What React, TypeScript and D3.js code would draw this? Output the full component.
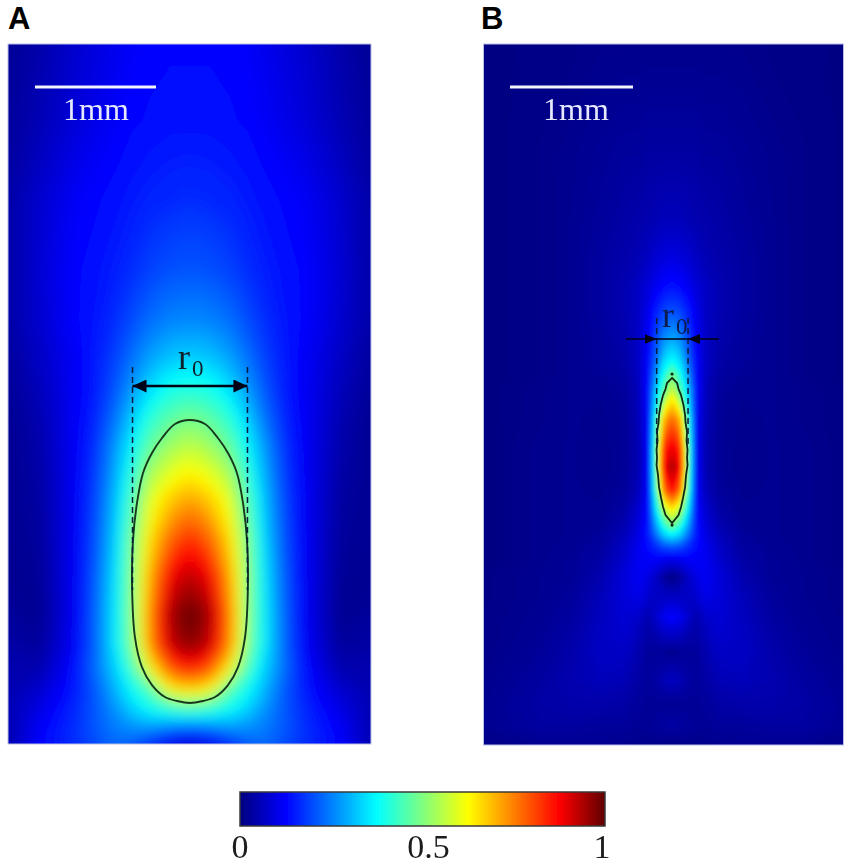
import React, { useEffect, useRef } from "react";
import * as d3 from "d3";

// field. radius and depth in mm, values are normalised intensity
// each row runs from the beam axis (r = 0) out to the panel edge
const radiusA = [0, 0.165, 0.33, 0.48, 0.62, 0.785, 0.95, 1.24, 1.5];
const depthA = [0, 0.63, 1.29, 1.87, 2.28, 2.61, 2.86, 3.11, 3.31, 3.54, 3.77, 4.1, 4.39, 4.72, 4.97, 5.17, 5.34, 5.45, 5.55, 5.65, 5.79];
const fieldA = [
  [0.13, 0.13, 0.128, 0.122, 0.11, 0.095, 0.08, 0.045, 0.025],
  [0.14, 0.14, 0.135, 0.13, 0.12, 0.105, 0.09, 0.055, 0.03],
  [0.17, 0.165, 0.16, 0.15, 0.14, 0.13, 0.12, 0.08, 0.04],
  [0.21, 0.205, 0.19, 0.17, 0.155, 0.14, 0.13, 0.085, 0.04],
  [0.26, 0.255, 0.235, 0.2, 0.17, 0.145, 0.13, 0.08, 0.04],
  [0.335, 0.325, 0.29, 0.24, 0.19, 0.15, 0.12, 0.07, 0.03],
  [0.41, 0.4, 0.35, 0.28, 0.21, 0.15, 0.12, 0.06, 0.025],
  [0.5, 0.47, 0.42, 0.33, 0.24, 0.16, 0.12, 0.05, 0.02],
  [0.56, 0.53, 0.47, 0.37, 0.27, 0.17, 0.12, 0.045, 0.02],
  [0.635, 0.6, 0.54, 0.41, 0.29, 0.18, 0.12, 0.04, 0.02],
  [0.72, 0.68, 0.6, 0.45, 0.31, 0.19, 0.12, 0.035, 0.02],
  [0.84, 0.78, 0.66, 0.49, 0.33, 0.2, 0.12, 0.03, 0.02],
  [0.93, 0.88, 0.71, 0.5, 0.35, 0.21, 0.12, 0.025, 0.02],
  [1.0, 0.95, 0.75, 0.5, 0.36, 0.22, 0.12, 0.02, 0.03],
  [0.97, 0.92, 0.74, 0.49, 0.36, 0.22, 0.125, 0.03, 0.04],
  [0.85, 0.79, 0.62, 0.44, 0.33, 0.23, 0.14, 0.05, 0.05],
  [0.66, 0.63, 0.45, 0.38, 0.3, 0.21, 0.15, 0.08, 0.05],
  [0.5, 0.47, 0.41, 0.35, 0.28, 0.21, 0.16, 0.095, 0.05],
  [0.38, 0.37, 0.35, 0.31, 0.26, 0.21, 0.165, 0.11, 0.05],
  [0.22, 0.24, 0.27, 0.27, 0.25, 0.21, 0.17, 0.12, 0.05],
  [0.08, 0.1, 0.16, 0.21, 0.23, 0.2, 0.17, 0.13, 0.05]
];

const radiusB = [0, 0.065, 0.13, 0.195, 0.276, 0.39, 0.57, 0.81, 1.057, 1.533];
const depthB = [0, 0.862, 1.431, 1.756, 1.959, 2.163, 2.407, 2.569, 2.691, 2.813, 3.057, 3.301, 3.439, 3.626, 3.789, 3.911, 3.992, 4.089, 4.195, 4.333, 4.496, 4.659, 4.805, 4.943, 5.171, 5.358, 5.537, 5.699];
const fieldB = [
  [0.015, 0.015, 0.015, 0.015, 0.015, 0.015, 0.015, 0.01, 0.01, 0.005],
  [0.035, 0.035, 0.035, 0.035, 0.03, 0.03, 0.025, 0.018, 0.012, 0.005],
  [0.06, 0.06, 0.055, 0.05, 0.045, 0.04, 0.03, 0.02, 0.012, 0.005],
  [0.1, 0.095, 0.085, 0.07, 0.055, 0.045, 0.035, 0.02, 0.012, 0.005],
  [0.14, 0.13, 0.115, 0.09, 0.07, 0.05, 0.035, 0.02, 0.012, 0.005],
  [0.2, 0.19, 0.155, 0.11, 0.07, 0.05, 0.035, 0.02, 0.012, 0.005],
  [0.3, 0.27, 0.2, 0.125, 0.07, 0.045, 0.03, 0.02, 0.012, 0.005],
  [0.38, 0.34, 0.235, 0.13, 0.07, 0.04, 0.03, 0.02, 0.012, 0.005],
  [0.5, 0.4, 0.28, 0.135, 0.065, 0.035, 0.025, 0.02, 0.012, 0.005],
  [0.58, 0.46, 0.33, 0.14, 0.06, 0.03, 0.02, 0.02, 0.015, 0.005],
  [0.78, 0.7, 0.42, 0.13, 0.055, 0.025, 0.018, 0.02, 0.015, 0.005],
  [0.9, 0.84, 0.47, 0.13, 0.05, 0.025, 0.015, 0.02, 0.018, 0.005],
  [0.95, 0.87, 0.47, 0.13, 0.05, 0.025, 0.015, 0.02, 0.018, 0.005],
  [0.87, 0.76, 0.44, 0.13, 0.06, 0.03, 0.018, 0.02, 0.018, 0.005],
  [0.64, 0.55, 0.36, 0.14, 0.08, 0.04, 0.02, 0.02, 0.018, 0.005],
  [0.5, 0.42, 0.29, 0.15, 0.09, 0.05, 0.025, 0.02, 0.018, 0.005],
  [0.37, 0.33, 0.24, 0.15, 0.1, 0.06, 0.03, 0.02, 0.018, 0.005],
  [0.21, 0.2, 0.17, 0.14, 0.11, 0.07, 0.035, 0.022, 0.018, 0.005],
  [0.1, 0.11, 0.12, 0.12, 0.115, 0.08, 0.04, 0.025, 0.018, 0.005],
  [0.01, 0.03, 0.07, 0.1, 0.115, 0.09, 0.05, 0.025, 0.02, 0.01],
  [0.07, 0.07, 0.07, 0.08, 0.105, 0.09, 0.06, 0.03, 0.02, 0.01],
  [0.13, 0.115, 0.08, 0.05, 0.075, 0.085, 0.065, 0.035, 0.022, 0.012],
  [0.07, 0.065, 0.05, 0.04, 0.06, 0.08, 0.07, 0.04, 0.025, 0.012],
  [0.015, 0.025, 0.03, 0.03, 0.05, 0.07, 0.07, 0.045, 0.028, 0.012],
  [0.07, 0.055, 0.04, 0.03, 0.04, 0.055, 0.06, 0.05, 0.035, 0.015],
  [0.02, 0.025, 0.025, 0.025, 0.03, 0.04, 0.045, 0.045, 0.04, 0.018],
  [0.04, 0.035, 0.03, 0.025, 0.025, 0.03, 0.03, 0.035, 0.035, 0.02],
  [0.01, 0.012, 0.015, 0.015, 0.015, 0.018, 0.02, 0.02, 0.02, 0.01]
];

// half-maximum outlines: depth (mm) and half width (mm)
const outlineDepthA = [3.107, 3.14, 3.256, 3.38, 3.545, 3.793, 4.099, 4.471, 4.901, 5.149, 5.298, 5.397, 5.43, 5.446];
const outlineWidthA = [0, 0.124, 0.231, 0.314, 0.388, 0.438, 0.471, 0.479, 0.455, 0.397, 0.314, 0.207, 0.107, 0];
const outlineDepthB = [2.715, 2.756, 2.805, 2.854, 2.935, 3.016, 3.081, 3.154, 3.228, 3.301, 3.366, 3.423, 3.504, 3.602, 3.691, 3.764, 3.829, 3.894];
const outlineWidthB = [0, 0.041, 0.053, 0.073, 0.093, 0.106, 0.11, 0.122, 0.118, 0.126, 0.122, 0.126, 0.114, 0.106, 0.089, 0.073, 0.053, 0];
const tipDepthsB = [2.683, 3.911];

const jetStops = [0, 0.125, 0.375, 0.625, 0.875, 1];
const jetColors = ["#00007f", "#0000ff", "#00ffff", "#ffff00", "#ff0000", "#600000"];
const colorTicks = ["0", "0.5", "1"];

const jet = d3.scaleLinear<string>().domain(jetStops).range(jetColors).interpolate(d3.interpolateRgb);

function drawPanel(svg: any, opts: any) {
  const { id, x0, x1, y0, y1, xDomain, maxDepth, radius, depth, field, blur } = opts;
  const xScale = d3.scaleLinear().domain(xDomain).range([x0, x1]);
  const yScale = d3.scaleLinear().domain([0, maxDepth]).range([y0, y1]);

  // mirror each row across the axis, the field is axisymmetric
  const xs = [...radius.slice(1).map((r: number) => -r).reverse(), ...radius];
  const values = field.flatMap((row: number[]) => [...row.slice(1).reverse(), ...row]);

  // d3.contours puts sample i at i + 0.5, so map those to the real positions
  const pad = 20;
  const gridX = d3
    .scaleLinear()
    .domain([0, ...xs.map((_: number, i: number) => i + 0.5), xs.length])
    .range([xScale(xs[0]) - pad, ...xs.map((v: number) => xScale(v)), xScale(xs[xs.length - 1]) + pad]);
  const gridY = d3
    .scaleLinear()
    .domain([0, ...depth.map((_: number, i: number) => i + 0.5), depth.length])
    .range([yScale(depth[0]) - pad, ...depth.map((v: number) => yScale(v)), yScale(depth[depth.length - 1]) + pad]);

  const contours = d3
    .contours()
    .size([xs.length, depth.length])
    .thresholds(d3.range(0, 1, 1 / 256))(values);

  const path = d3.geoPath(
    d3.geoTransform({
      point(x: number, y: number) {
        (this as any).stream.point(gridX(x), gridY(y));
      }
    })
  );

  const defs = svg.append("defs");
  defs
    .append("clipPath")
    .attr("id", "clip" + id)
    .append("rect")
    .attr("x", x0)
    .attr("y", y0)
    .attr("width", x1 - x0)
    .attr("height", y1 - y0);
  defs
    .append("filter")
    .attr("id", "smooth" + id)
    .append("feGaussianBlur")
    .attr("stdDeviation", blur);

  const clipped = svg.append("g").attr("clip-path", "url(#clip" + id + ")");
  clipped
    .append("g")
    .attr("filter", "url(#smooth" + id + ")")
    .selectAll("path")
    .data(contours)
    .enter()
    .append("path")
    .attr("d", (d: any) => path(d))
    .attr("fill", (d: any) => jet(d.value));

  svg
    .append("rect")
    .attr("x", x0)
    .attr("y", y0)
    .attr("width", x1 - x0)
    .attr("height", y1 - y0)
    .attr("fill", "none")
    .attr("stroke", "#b9bfe6")
    .attr("stroke-width", 1);

  return { xScale, yScale };
}

function outlinePoints(depths: number[], widths: number[]) {
  const right = depths.map((d, i) => [widths[i], d]);
  const left = depths.map((d, i) => [-widths[i], d]).slice(1, -1).reverse();
  return [...right, ...left];
}

function addHead(defs: any, id: string, w: number, h: number) {
  defs
    .append("marker")
    .attr("id", id)
    .attr("viewBox", `0 0 ${w} ${h}`)
    .attr("refX", w)
    .attr("refY", h / 2)
    .attr("markerWidth", w)
    .attr("markerHeight", h)
    .attr("markerUnits", "userSpaceOnUse")
    .attr("orient", "auto-start-reverse")
    .append("path")
    .attr("d", `M0,0L${w},${h / 2}L0,${h}Z`)
    .attr("fill", "#050514");
}

function App() {
  const ref = useRef<SVGSVGElement>(null);

  useEffect(() => {
    const svg = d3.select(ref.current);
    svg.selectAll("*").remove();

    const defs = svg.append("defs");
    defs
      .append("filter")
      .attr("id", "soft")
      .append("feGaussianBlur")
      .attr("stdDeviation", 0.45);
    addHead(defs, "headA", 14, 13);
    addHead(defs, "headB", 12, 10);

    const a = drawPanel(svg, {
      id: "A",
      x0: 8,
      x1: 371,
      y0: 44,
      y1: 744,
      xDomain: [-1.504, 1.496],
      maxDepth: 5.785,
      radius: radiusA,
      depth: depthA,
      field: fieldA,
      blur: 7
    });
    const b = drawPanel(svg, {
      id: "B",
      x0: 483.5,
      x1: 843.5,
      y0: 44,
      y1: 745,
      xDomain: [-1.533, 1.394],
      maxDepth: 5.699,
      radius: radiusB,
      depth: depthB,
      field: fieldB,
      blur: 2
    });

    const overlay = svg.append("g").attr("filter", "url(#soft)");

    // half-maximum outlines
    const lineA = d3
      .line()
      .x((d: any) => a.xScale(d[0]))
      .y((d: any) => a.yScale(d[1]))
      .curve(d3.curveCatmullRomClosed.alpha(0.5));
    overlay
      .append("path")
      .attr("d", lineA(outlinePoints(outlineDepthA, outlineWidthA) as any))
      .attr("fill", "none")
      .attr("stroke", "#14381f")
      .attr("stroke-width", 1.9);

    const lineB = d3
      .line()
      .x((d: any) => b.xScale(d[0]))
      .y((d: any) => b.yScale(d[1]))
      .curve(d3.curveLinearClosed);
    overlay
      .append("path")
      .attr("d", lineB(outlinePoints(outlineDepthB, outlineWidthB) as any))
      .attr("fill", "none")
      .attr("stroke", "#0c2a18")
      .attr("stroke-width", 1.8);
    tipDepthsB.forEach(d => {
      overlay
        .append("circle")
        .attr("cx", b.xScale(0))
        .attr("cy", b.yScale(d))
        .attr("r", 1.6)
        .attr("fill", "#0c2a18");
    });

    // r0 guides, panel A
    [-0.475, 0.475].forEach(r => {
      overlay
        .append("line")
        .attr("x1", a.xScale(r))
        .attr("x2", a.xScale(r))
        .attr("y1", 367)
        .attr("y2", 590)
        .attr("stroke", "#0a1a3a")
        .attr("stroke-width", 1.5)
        .attr("stroke-dasharray", "6 4");
    });
    overlay
      .append("line")
      .attr("x1", a.xScale(-0.475))
      .attr("x2", a.xScale(0.475))
      .attr("y1", 386)
      .attr("y2", 386)
      .attr("stroke", "#050514")
      .attr("stroke-width", 2.4)
      .attr("marker-start", "url(#headA)")
      .attr("marker-end", "url(#headA)");

    // r0 guides, panel B
    [-0.125, 0.13].forEach(r => {
      overlay
        .append("line")
        .attr("x1", b.xScale(r))
        .attr("x2", b.xScale(r))
        .attr("y1", 318)
        .attr("y2", 445)
        .attr("stroke", "#0a1a3a")
        .attr("stroke-width", 1.5)
        .attr("stroke-dasharray", "6 4");
    });
    overlay
      .append("line")
      .attr("x1", b.xScale(-0.125))
      .attr("x2", b.xScale(0.13))
      .attr("y1", 339)
      .attr("y2", 339)
      .attr("stroke", "#050514")
      .attr("stroke-width", 1.5);
    [
      [b.xScale(-0.125) - 31, b.xScale(-0.125)],
      [b.xScale(0.13) + 31, b.xScale(0.13)]
    ].forEach(([from, to]) => {
      overlay
        .append("line")
        .attr("x1", from)
        .attr("x2", to)
        .attr("y1", 339)
        .attr("y2", 339)
        .attr("stroke", "#050514")
        .attr("stroke-width", 1.5)
        .attr("marker-end", "url(#headB)");
    });

    const serif = "'Liberation Serif', serif";
    const sans = "'Liberation Sans', sans-serif";

    const rLabel = (x: number, y: number, fill: string) => {
      const t = overlay.append("text").attr("x", x).attr("y", y).attr("font-family", serif).attr("fill", fill);
      t.append("tspan").attr("font-size", 36).text("r");
      t.append("tspan").attr("font-size", 23).attr("dy", 7).attr("dx", 2).text("0");
    };
    rLabel(178, 369, "#10202c");
    rLabel(662, 327, "#0a1a50");

    // scale bars, 1 mm long
    const scaleBars = [
      { scale: 121, x: 35, tx: 96 },
      { scale: 123, x: 510, tx: 576 }
    ];
    scaleBars.forEach(s => {
      overlay
        .append("line")
        .attr("x1", s.x)
        .attr("x2", s.x + s.scale)
        .attr("y1", 87)
        .attr("y2", 87)
        .attr("stroke", "#f4f4ff")
        .attr("stroke-width", 3);
      overlay
        .append("text")
        .attr("x", s.tx)
        .attr("y", 120)
        .attr("text-anchor", "middle")
        .attr("font-family", serif)
        .attr("font-size", 32)
        .attr("fill", "#e6e8ff")
        .text("1mm");
    });

    // panel letters
    [["A", 8], ["B", 481]].forEach(([label, x]: any) => {
      svg
        .append("text")
        .attr("x", x)
        .attr("y", 29)
        .attr("font-family", sans)
        .attr("font-weight", "bold")
        .attr("font-size", 31)
        .attr("fill", "#000")
        .text(label);
    });

    // colour bar
    const barScale = d3.scaleLinear().domain([0, 1]).range([240, 605]);
    const gradient = defs.append("linearGradient").attr("id", "jetBar");
    jetStops.forEach((s, i) => {
      gradient
        .append("stop")
        .attr("offset", s)
        .attr("stop-color", jetColors[i]);
    });
    svg
      .append("rect")
      .attr("x", barScale(0))
      .attr("y", 792)
      .attr("width", barScale(1) - barScale(0))
      .attr("height", 34)
      .attr("fill", "url(#jetBar)")
      .attr("stroke", "#3a3a3a")
      .attr("stroke-width", 1.5)
      .attr("filter", "url(#soft)");

    const tickNudge = [0, 6, -3];
    svg
      .selectAll("text.tick")
      .data(colorTicks)
      .enter()
      .append("text")
      .attr("class", "tick")
      .attr("x", (d, i) => barScale(+d) + tickNudge[i])
      .attr("y", 858)
      .attr("text-anchor", "middle")
      .attr("font-family", serif)
      .attr("font-size", 34)
      .attr("fill", "#1c1c1c")
      .attr("filter", "url(#soft)")
      .text(d => d);
  }, []);

  return (
    <svg
      ref={ref}
      width={851}
      height={866}
      style={{ position: "absolute", left: 0, top: 0, background: "#fff" }}
    />
  );
}

export default App;
